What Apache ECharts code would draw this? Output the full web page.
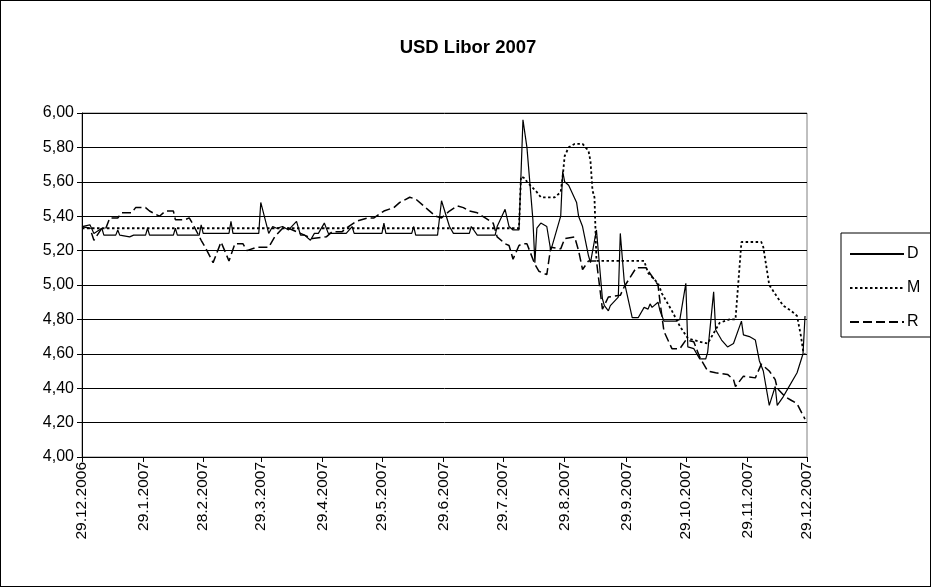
<!DOCTYPE html>
<html>
<head>
<meta charset="utf-8">
<script src="https://cdn.jsdelivr.net/npm/echarts@6.0.0/dist/echarts.min.js"></script>
<style>
html,body{margin:0;padding:0;background:#fff;}
#frame{width:931px;height:587px;box-sizing:border-box;border:1px solid #000;overflow:hidden;position:relative;}
#chart{position:absolute;left:-1px;top:-1px;width:931px;height:587px;}
</style>
</head>
<body>
<div id="frame"><div id="chart"></div></div>
<script>
const titleText = 'USD Libor 2007';
const seriesNames = ['D', 'M', 'R'];
const tickLabels = ['29.12.2006','29.1.2007','28.2.2007','29.3.2007','29.4.2007','29.5.2007','29.6.2007','29.7.2007','29.8.2007','29.9.2007','29.10.2007','29.11.2007','29.12.2007'];
const yMin = 4.0, yMax = 6.0, yStep = 0.2;

const dValues = [
['2006-12-29',5.34],['2007-01-02',5.35],['2007-01-03',5.34],['2007-01-04',5.30],['2007-01-05',5.30],
['2007-01-08',5.33],['2007-01-09',5.29],['2007-01-15',5.29],['2007-01-16',5.32],['2007-01-17',5.29],
['2007-01-22',5.28],['2007-01-24',5.29],['2007-01-30',5.29],['2007-01-31',5.33],['2007-02-01',5.29],
['2007-02-13',5.29],['2007-02-14',5.33],['2007-02-15',5.29],['2007-02-26',5.29],['2007-02-27',5.35],
['2007-02-28',5.30],['2007-03-13',5.30],['2007-03-14',5.37],['2007-03-15',5.30],['2007-03-28',5.30],
['2007-03-29',5.48],['2007-04-02',5.30],['2007-04-04',5.34],['2007-04-06',5.33],['2007-04-09',5.34],
['2007-04-12',5.32],['2007-04-16',5.37],['2007-04-18',5.29],['2007-04-20',5.29],['2007-04-23',5.26],
['2007-04-25',5.30],['2007-04-27',5.30],['2007-04-30',5.36],['2007-05-02',5.30],['2007-05-11',5.30],
['2007-05-14',5.34],['2007-05-15',5.30],['2007-05-29',5.30],['2007-05-30',5.36],['2007-05-31',5.30],
['2007-06-13',5.30],['2007-06-14',5.34],['2007-06-15',5.29],['2007-06-26',5.29],['2007-06-28',5.49],
['2007-07-02',5.34],['2007-07-04',5.30],['2007-07-12',5.30],['2007-07-13',5.34],['2007-07-16',5.29],
['2007-07-25',5.29],['2007-07-26',5.34],['2007-07-30',5.44],['2007-08-01',5.34],['2007-08-03',5.32],
['2007-08-06',5.32],['2007-08-08',5.96],['2007-08-10',5.80],['2007-08-13',5.38],['2007-08-14',5.13],
['2007-08-15',5.33],['2007-08-17',5.36],['2007-08-20',5.34],['2007-08-22',5.20],['2007-08-27',5.40],
['2007-08-28',5.66],['2007-08-29',5.60],['2007-08-31',5.58],['2007-09-04',5.48],['2007-09-05',5.40],
['2007-09-07',5.34],['2007-09-10',5.17],['2007-09-11',5.13],['2007-09-14',5.32],['2007-09-17',4.92],
['2007-09-18',4.88],['2007-09-20',4.85],['2007-09-21',4.88],['2007-09-25',4.93],['2007-09-26',5.30],
['2007-09-28',5.02],['2007-10-02',4.81],['2007-10-05',4.81],['2007-10-08',4.87],['2007-10-10',4.86],
['2007-10-11',4.89],['2007-10-12',4.87],['2007-10-15',4.90],['2007-10-16',4.85],['2007-10-18',4.79],
['2007-10-24',4.79],['2007-10-26',4.80],['2007-10-29',5.01],['2007-10-30',4.64],['2007-11-02',4.63],
['2007-11-05',4.57],['2007-11-08',4.57],['2007-11-09',4.61],['2007-11-12',4.96],['2007-11-13',4.74],
['2007-11-14',4.75],['2007-11-16',4.68],['2007-11-19',4.64],['2007-11-20',4.65],['2007-11-22',4.66],
['2007-11-26',4.79],['2007-11-27',4.71],['2007-11-30',4.70],['2007-12-03',4.68],['2007-12-05',4.56],
['2007-12-06',4.55],['2007-12-07',4.50],['2007-12-10',4.30],['2007-12-13',4.41],['2007-12-14',4.30],
['2007-12-17',4.35],['2007-12-19',4.39],['2007-12-24',4.49],['2007-12-27',4.60],['2007-12-28',4.82]
];

const mValues = [
['2006-12-29',5.33],['2007-08-06',5.33],['2007-08-07',5.63],['2007-08-09',5.62],['2007-08-10',5.60],
['2007-08-15',5.54],['2007-08-17',5.51],['2007-08-24',5.51],['2007-08-27',5.54],['2007-08-28',5.63],
['2007-08-29',5.75],['2007-08-31',5.80],['2007-09-03',5.82],['2007-09-07',5.82],['2007-09-10',5.78],
['2007-09-11',5.72],['2007-09-12',5.55],['2007-09-13',5.51],['2007-09-14',5.14],['2007-10-08',5.14],
['2007-10-10',5.07],['2007-10-15',5.01],['2007-10-17',4.95],['2007-10-22',4.85],['2007-10-26',4.76],
['2007-10-30',4.69],['2007-11-05',4.67],['2007-11-09',4.66],['2007-11-15',4.78],['2007-11-20',4.80],
['2007-11-23',4.80],['2007-11-26',5.25],['2007-11-27',5.26],['2007-12-06',5.25],['2007-12-07',5.22],
['2007-12-10',5.00],['2007-12-14',4.93],['2007-12-17',4.88],['2007-12-21',4.85],['2007-12-24',4.82],
['2007-12-26',4.70],['2007-12-27',4.62],['2007-12-28',4.60]
];

const rValues = [
['2006-12-29',5.34],['2007-01-02',5.33],['2007-01-04',5.26],['2007-01-08',5.33],['2007-01-10',5.33],
['2007-01-12',5.39],['2007-01-16',5.39],['2007-01-18',5.42],['2007-01-23',5.42],['2007-01-25',5.45],
['2007-01-30',5.45],['2007-02-01',5.43],['2007-02-06',5.40],['2007-02-09',5.43],['2007-02-13',5.43],
['2007-02-14',5.38],['2007-02-19',5.38],['2007-02-21',5.39],['2007-02-23',5.35],['2007-02-27',5.26],
['2007-03-01',5.22],['2007-03-05',5.13],['2007-03-09',5.25],['2007-03-13',5.14],['2007-03-16',5.24],
['2007-03-20',5.24],['2007-03-22',5.20],['2007-03-27',5.22],['2007-04-02',5.22],['2007-04-05',5.28],
['2007-04-09',5.33],['2007-04-12',5.33],['2007-04-18',5.30],['2007-04-24',5.27],['2007-05-01',5.28],
['2007-05-04',5.31],['2007-05-09',5.31],['2007-05-11',5.33],['2007-05-16',5.37],['2007-05-22',5.39],
['2007-05-25',5.39],['2007-05-30',5.43],['2007-06-04',5.45],['2007-06-07',5.48],['2007-06-12',5.51],
['2007-06-15',5.50],['2007-06-19',5.46],['2007-06-21',5.44],['2007-06-25',5.40],['2007-06-28',5.39],
['2007-07-02',5.43],['2007-07-06',5.46],['2007-07-09',5.45],['2007-07-12',5.43],['2007-07-16',5.42],
['2007-07-20',5.39],['2007-07-24',5.36],['2007-07-26',5.28],['2007-07-30',5.24],['2007-08-01',5.23],
['2007-08-03',5.15],['2007-08-06',5.23],['2007-08-08',5.24],['2007-08-10',5.24],['2007-08-14',5.12],
['2007-08-16',5.08],['2007-08-20',5.06],['2007-08-22',5.22],['2007-08-27',5.21],['2007-08-29',5.27],
['2007-09-03',5.28],['2007-09-05',5.20],['2007-09-07',5.09],['2007-09-10',5.14],['2007-09-14',5.14],
['2007-09-17',4.86],['2007-09-20',4.93],['2007-09-26',4.94],['2007-09-28',4.99],['2007-10-04',5.10],
['2007-10-09',5.10],['2007-10-15',5.00],['2007-10-16',4.90],['2007-10-18',4.73],['2007-10-22',4.63],
['2007-10-26',4.63],['2007-10-29',4.68],['2007-11-02',4.67],['2007-11-05',4.58],['2007-11-09',4.50],
['2007-11-13',4.49],['2007-11-19',4.48],['2007-11-22',4.45],['2007-11-23',4.41],['2007-11-27',4.47],
['2007-12-03',4.46],['2007-12-06',4.54],['2007-12-10',4.50],['2007-12-13',4.45],['2007-12-14',4.40],
['2007-12-18',4.35],['2007-12-21',4.33],['2007-12-24',4.31],['2007-12-28',4.22]
];

const origin = Date.UTC(2006, 11, 29);
function isoDay(s) { const p = s.split('-').map(Number); return (Date.UTC(p[0], p[1]-1, p[2]) - origin) / 86400000; }
function dmyDay(s) { const p = s.split('.').map(Number); return (Date.UTC(p[2], p[1]-1, p[0]) - origin) / 86400000; }
const tickDays = tickLabels.map(dmyDay);
const toPoints = arr => arr.map(([d, v]) => [isoDay(d), v]);

const FONT = '"Liberation Sans", Arial, sans-serif';
const chart = echarts.init(document.getElementById('chart'), null, {renderer: 'canvas'});
const lineStyles = [
  {color: '#000', width: 1.2, type: 'solid'},
  {color: '#000', width: 1.8, type: [2.5, 2.5]},
  {color: '#000', width: 1.5, type: [9, 4]}
];
const dataSets = [dValues, mValues, rValues];

chart.setOption({
  animation: false,
  backgroundColor: '#fff',
  title: {
    text: titleText, left: 463, top: 33, textAlign: 'center',
    textStyle: {fontFamily: FONT, fontSize: 18.5, fontWeight: 'bold', color: '#000'}
  },
  legend: {
    orient: 'vertical', left: 841, top: 233,
    padding: [13, 16, 7, 8], itemGap: 18, itemWidth: 54, itemHeight: 14,
    borderColor: '#000', borderWidth: 1, backgroundColor: '#fff',
    itemStyle: {opacity: 0, color: 'transparent', borderWidth: 0},
    textStyle: {fontFamily: FONT, fontSize: 16, color: '#000', padding: [0, 0, 0, -2]},
    data: seriesNames
  },
  grid: {left: 82, top: 113, right: 124, bottom: 130, show: true, borderColor: '#808080', borderWidth: 1, containLabel: false},
  xAxis: {
    type: 'value', min: 0, max: tickDays[tickDays.length - 1],
    axisLine: {show: true, lineStyle: {color: '#000', width: 1}},
    axisTick: {show: true, customValues: tickDays, length: 5, inside: false, lineStyle: {color: '#000'}},
    axisLabel: {
      customValues: tickDays, rotate: 90, margin: 5,
      fontFamily: FONT, fontSize: 15.5, color: '#000',
      formatter: v => tickLabels[tickDays.indexOf(v)] || ''
    },
    splitLine: {show: false}
  },
  yAxis: {
    type: 'value', min: yMin, max: yMax, interval: yStep,
    axisLine: {show: true, lineStyle: {color: '#000', width: 1}},
    axisTick: {show: true, length: 5, inside: false, lineStyle: {color: '#000'}},
    axisLabel: {
      margin: 8, fontFamily: FONT, fontSize: 16, color: '#000',
      formatter: v => v.toFixed(2).replace('.', ',')
    },
    splitLine: {show: true, lineStyle: {color: '#000', width: 1}}
  },
  series: seriesNames.map((name, i) => ({
    name, type: 'line', data: toPoints(dataSets[i]),
    showSymbol: false, symbol: 'none', smooth: false,
    lineStyle: lineStyles[i], itemStyle: {color: '#000'},
    emphasis: {disabled: true}
  }))
});
</script>
</body>
</html>
